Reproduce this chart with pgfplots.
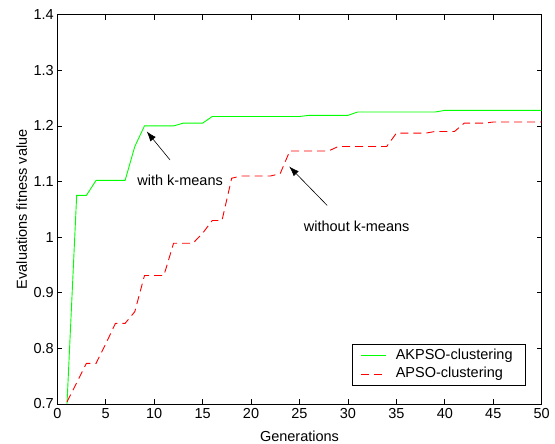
\documentclass[border=0pt]{standalone}
\usepackage{fontspec}
\setmainfont{Liberation Sans}
\usepackage{pgfplots}
\usepackage{pgfplotstable}
\pgfplotsset{compat=1.18}
\usetikzlibrary{arrows.meta}
\definecolor{akgreen}{RGB}{0,255,0}
\definecolor{apred}{RGB}{255,0,0}

% Best fitness per generation, with and without k-means initialisation
\pgfplotstableread{
gen akpso apso
1  0.700 0.704
2  1.075 0.738
3  1.075 0.773
4  1.102 0.773
5  1.102 0.808
6  1.102 0.845
7  1.102 0.845
8  1.163 0.866
9  1.200 0.931
10 1.200 0.931
11 1.200 0.931
12 1.200 0.989
13 1.205 0.989
14 1.205 0.989
15 1.205 1.007
16 1.217 1.030
17 1.217 1.030
18 1.217 1.106
19 1.217 1.110
20 1.217 1.110
21 1.217 1.110
22 1.217 1.110
23 1.217 1.114
24 1.217 1.155
25 1.217 1.155
26 1.219 1.155
27 1.219 1.155
28 1.219 1.155
29 1.219 1.163
30 1.219 1.163
31 1.225 1.163
32 1.225 1.163
33 1.225 1.163
34 1.225 1.163
35 1.225 1.187
36 1.225 1.187
37 1.225 1.187
38 1.225 1.187
39 1.225 1.190
40 1.228 1.190
41 1.228 1.190
42 1.228 1.205
43 1.228 1.205
44 1.228 1.205
45 1.228 1.207
46 1.228 1.207
47 1.228 1.207
48 1.228 1.207
49 1.228 1.207
50 1.228 1.207
}\fitness

\begin{document}
\begin{tikzpicture}[font=\fontsize{14.5bp}{17bp}\selectfont]
\useasboundingbox (-57.3bp,-40bp) rectangle (497.7bp,404bp);
\begin{axis}[
  at={(0,0)}, anchor=south west,
  scale only axis, width=484.4bp, height=389.3bp,
  xmin=0, xmax=50, ymin=0.7, ymax=1.4,
  xtick={0,5,10,15,20,25,30,35,40,45,50},
  ytick={0.7,0.8,0.9,1,1.1,1.2,1.3,1.4},
  tick align=inside, major tick length=5bp,
  axis line style={line width=0.8bp},
  every tick/.style={black, line width=0.8bp},
  /pgf/number format/assume math mode=true,
  yticklabel style={/pgf/number format/fixed, /pgf/number format/precision=1},
  xticklabel style={yshift=-1bp},
  xlabel={Generations}, ylabel={Evaluations fitness value},
  xlabel style={at={(axis description cs:0.5,-0.0822)}, anchor=center},
  ylabel style={at={(axis description cs:-0.0735,0.5)}, anchor=center},
  legend cell align=left,
  legend image code/.code={\draw[#1] (0bp,0bp) -- (25bp,0bp); \path (29.5bp,0bp);},
  legend style={at={(rel axis cs:1,0)}, anchor=south east,
    xshift=-16.2bp, yshift=18.3bp, draw=black, line width=0.8bp,
    inner xsep=8bp, inner ysep=4.8bp, row sep=5.3bp,
    nodes={inner xsep=4.5bp, inner ysep=0bp, text height=10bp, text depth=3bp}},
]
\addplot[draw=akgreen, line width=0.9bp] table[x=gen, y=akpso] {\fitness};
\addlegendentry{AKPSO-clustering}
\addplot[draw=apred, line width=0.9bp, dash pattern=on 8bp off 5bp] table[x=gen, y=apso] {\fitness};
\addlegendentry{APSO-clustering}

\draw[-{Latex[length=10bp,width=7bp]}, line width=0.6bp] (axis cs:11.63,1.139) -- (axis cs:9.23,1.19);
\draw[-{Latex[length=10bp,width=7bp]}, line width=0.6bp] (axis cs:27.86,1.057) -- (axis cs:23.94,1.127);
\node at (axis cs:12.68,1.103) {with k-means};
\node at (axis cs:30.9,1.020) {without k-means};
\end{axis}
\end{tikzpicture}
\end{document}
